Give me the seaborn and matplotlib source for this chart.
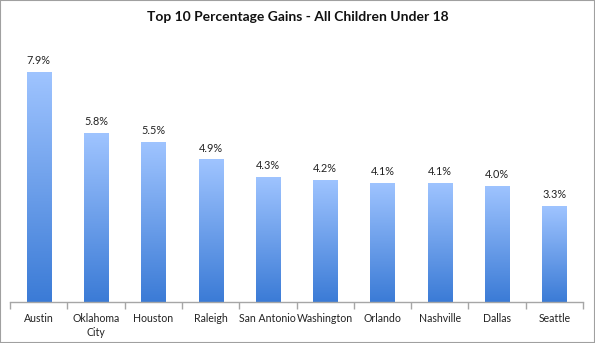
import numpy as np
import matplotlib
matplotlib.use("Agg")
import matplotlib.pyplot as plt
from matplotlib.colors import LinearSegmentedColormap
from matplotlib.patches import Rectangle
import seaborn as sns
import pandas as pd

cities = ["Austin", "Oklahoma\nCity", "Houston", "Raleigh", "San Antonio",
          "Washington", "Orlando", "Nashville", "Dallas", "Seattle"]
gains = [7.9, 5.8, 5.5, 4.9, 4.3, 4.2, 4.1, 4.1, 4.0, 3.3]
labels = ["7.9%", "5.8%", "5.5%", "4.9%", "4.3%", "4.2%", "4.1%", "4.1%", "4.0%", "3.3%"]

df = pd.DataFrame({"city": cities, "gain": gains})

sns.set_theme(style="white")
plt.rcParams["font.family"] = ["Lato", "DejaVu Sans"]

fig = plt.figure(figsize=(5.95, 3.43), dpi=100)
ax = fig.add_axes([10 / 595, 1 - 302 / 343, 573 / 595, 242 / 343])

sns.barplot(data=df, x="city", y="gain", ax=ax, width=0.42,
            color="#6fa0ec", edgecolor="none", saturation=1)

# vertical gradient fill for each bar
cmap = LinearSegmentedColormap.from_list("blue_grad", ["#3b7bd6", "#9fc4ff"])
grad = np.linspace(0, 1, 256).reshape(-1, 1)
for p in ax.patches:
    x0, y0 = p.get_x(), p.get_y()
    w, h = p.get_width(), p.get_height()
    p.set_facecolor("none")
    im = ax.imshow(grad, extent=[x0, x0 + w, y0, y0 + h], origin="lower",
                   cmap=cmap, aspect="auto", zorder=2, interpolation="bicubic")
    im.set_clip_path(p)

for i, (v, lab) in enumerate(zip(gains, labels)):
    ax.text(i, v + 0.2, lab, ha="center", va="bottom", fontsize=7.8,
            color="#222222")

ax.set_xlim(-0.5, 9.5)
ax.set_ylim(0, 8.32)
ax.set_xlabel("")
ax.set_ylabel("")
ax.set_yticks([])
for s in ["top", "right", "left"]:
    ax.spines[s].set_visible(False)
ax.spines["bottom"].set_color("#a6a6a6")
ax.spines["bottom"].set_linewidth(1.0)

ax.set_xticks(range(len(cities)))
ax.set_xticklabels(cities, fontsize=7.6, color="#222222", linespacing=1.3)
ax.set_xticks(np.arange(-0.5, 10, 1.0), minor=True)
ax.tick_params(axis="x", which="major", length=0, pad=8)
ax.tick_params(axis="x", which="minor", length=5, color="#a6a6a6",
               width=1.0, direction="out", bottom=True)

fig.text(0.5, 1 - 17 / 343, "Top 10 Percentage Gains - All Children Under 18",
         ha="center", va="center", fontsize=10, fontweight="bold",
         color="#111111")

fig.patches.append(Rectangle((0, 0), 1, 1, transform=fig.transFigure,
                             fill=False, edgecolor="#a0a0a0", linewidth=1.5))

fig.savefig("out.png", dpi=100)
